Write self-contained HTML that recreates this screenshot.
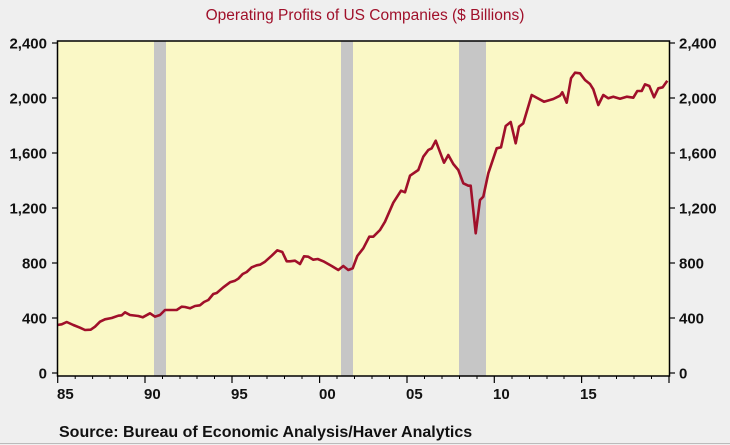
<!DOCTYPE html>
<html><head><meta charset="utf-8"><style>
html,body{margin:0;padding:0;background:#efefef;}
svg{display:block;font-family:"Liberation Sans",Arial,sans-serif;}
</style></head><body>
<svg width="730" height="445" viewBox="0 0 730 445">
<rect width="730" height="445" fill="#efefef"/>
<text x="365" y="20" text-anchor="middle" font-size="15.5" fill="#a0102a">Operating Profits of US Companies ($ Billions)</text>
<rect x="57.5" y="41" width="612" height="335" fill="#faf8c6"/>
<rect x="154" y="41" width="12" height="335" fill="#c6c6c6"/>
<rect x="341" y="41" width="12" height="335" fill="#c6c6c6"/>
<rect x="459" y="41" width="27" height="335" fill="#c6c6c6"/>
<polyline fill="none" stroke="#a0102a" stroke-width="2.6" stroke-linejoin="round" points="57.3,325 61.7,324.3 66.7,322 73.3,325 80,327.7 85,330 90.7,329.7 95,326.7 100,321.7 105,319.3 111.7,318 118.3,315.7 121.7,315.3 125,312.3 130,315 138.3,316 142.7,317.3 150,313.3 155,316.7 160,315 165,310 176.7,310 181.7,306.7 185,307 190,308.3 195,306 200,305.3 204,302 208.3,300 213.3,294 216.7,293 223.3,287.3 230,282.3 235,280.7 238.3,278.7 242.7,274 246.7,272 251.7,267.3 256.7,265.3 260,264.7 265,261.7 271.7,255.7 277.3,250.3 282.3,252 286.7,261.3 290,261.3 295,260.7 300,264 304,256.3 308.3,256.7 313.3,259.7 317.7,259 323.3,261.3 331.7,266 338.3,270 343.3,266 348.3,270 352.7,268.3 357.3,256 363.3,248.3 369.3,236.7 373.3,236.7 380,230 385,221.7 393.3,202.7 401,190.7 405,192.3 410,175.7 418.3,170 423.3,156.7 428.3,150 431.7,148.3 435.7,140.7 444,162.7 448.3,155 453.3,164 458.3,170 463.3,183.3 468.3,185.7 470.7,185.7 475.7,233.3 480,200 483.3,196.7 488.3,173.3 496.7,148.3 501,147.3 505.7,126 510.7,122 515.7,143.3 519,126.7 523.3,123.3 531.7,95 544,101.7 553.3,99 560,95.7 562.3,92.3 566.7,102.7 571,78.3 575,72.7 580,73.3 585,80 590,84 593.3,89.3 598.3,105 603.3,95 608.3,98.3 613.3,96.7 620,98.7 626.7,96.7 633.3,97.7 637.3,91 641.7,91 645,84.3 649.3,86 654,97.3 658.3,88.3 662.7,87.3 667.3,80.7"/>
<rect x="57.5" y="41" width="612" height="335" fill="none" stroke="#000" stroke-width="1.5"/>
<g stroke="#000" stroke-width="1.2">
<line x1="52" y1="43" x2="57.5" y2="43"/><line x1="52" y1="98" x2="57.5" y2="98"/><line x1="52" y1="153" x2="57.5" y2="153"/><line x1="52" y1="208" x2="57.5" y2="208"/><line x1="52" y1="263" x2="57.5" y2="263"/><line x1="52" y1="318" x2="57.5" y2="318"/><line x1="52" y1="373" x2="57.5" y2="373"/>
<line x1="669.5" y1="43" x2="675" y2="43"/><line x1="669.5" y1="98" x2="675" y2="98"/><line x1="669.5" y1="153" x2="675" y2="153"/><line x1="669.5" y1="208" x2="675" y2="208"/><line x1="669.5" y1="263" x2="675" y2="263"/><line x1="669.5" y1="318" x2="675" y2="318"/><line x1="669.5" y1="373" x2="675" y2="373"/>
<line x1="57.7" y1="376" x2="57.7" y2="383"/><line x1="145" y1="376" x2="145" y2="383"/><line x1="232" y1="376" x2="232" y2="383"/><line x1="319.6" y1="376" x2="319.6" y2="383"/><line x1="407" y1="376" x2="407" y2="383"/><line x1="494.3" y1="376" x2="494.3" y2="383"/><line x1="581.6" y1="376" x2="581.6" y2="383"/><line x1="669" y1="376" x2="669" y2="383"/>
</g>
<g stroke="#000" stroke-width="1">
<line x1="75.2" y1="376" x2="75.2" y2="379"/><line x1="92.6" y1="376" x2="92.6" y2="379"/><line x1="110" y1="376" x2="110" y2="379"/><line x1="127.5" y1="376" x2="127.5" y2="379"/>
<line x1="162.5" y1="376" x2="162.5" y2="379"/><line x1="180" y1="376" x2="180" y2="379"/><line x1="197" y1="376" x2="197" y2="379"/><line x1="214.5" y1="376" x2="214.5" y2="379"/>
<line x1="249.5" y1="376" x2="249.5" y2="379"/><line x1="267" y1="376" x2="267" y2="379"/><line x1="284.5" y1="376" x2="284.5" y2="379"/><line x1="302" y1="376" x2="302" y2="379"/>
<line x1="337" y1="376" x2="337" y2="379"/><line x1="354.5" y1="376" x2="354.5" y2="379"/><line x1="372" y1="376" x2="372" y2="379"/><line x1="389.5" y1="376" x2="389.5" y2="379"/>
<line x1="424.5" y1="376" x2="424.5" y2="379"/><line x1="442" y1="376" x2="442" y2="379"/><line x1="459.5" y1="376" x2="459.5" y2="379"/><line x1="477" y1="376" x2="477" y2="379"/>
<line x1="512" y1="376" x2="512" y2="379"/><line x1="529.5" y1="376" x2="529.5" y2="379"/><line x1="547" y1="376" x2="547" y2="379"/><line x1="564" y1="376" x2="564" y2="379"/>
<line x1="599" y1="376" x2="599" y2="379"/><line x1="616.5" y1="376" x2="616.5" y2="379"/><line x1="634" y1="376" x2="634" y2="379"/><line x1="651.5" y1="376" x2="651.5" y2="379"/>
</g>
<g font-size="15" font-weight="bold" fill="#111" text-anchor="end">
<text x="47" y="48.5">2,400</text><text x="47" y="103.5">2,000</text><text x="47" y="158.5">1,600</text><text x="47" y="213.5">1,200</text><text x="47" y="268.5">800</text><text x="47" y="323.5">400</text><text x="47" y="378.5">0</text>
</g>
<g font-size="15" font-weight="bold" fill="#111" text-anchor="start">
<text x="679" y="48.5">2,400</text><text x="679" y="103.5">2,000</text><text x="679" y="158.5">1,600</text><text x="679" y="213.5">1,200</text><text x="679" y="268.5">800</text><text x="679" y="323.5">400</text><text x="679" y="378.5">0</text>
</g>
<g font-size="15" font-weight="bold" fill="#111" text-anchor="start">
<text x="57" y="399">85</text><text x="144" y="399">90</text><text x="231" y="399">95</text><text x="319" y="399">00</text><text x="406" y="399">05</text><text x="493" y="399">10</text><text x="580" y="399">15</text>
</g>
<text x="59" y="437" font-size="16" font-weight="bold" fill="#111">Source:  Bureau of Economic Analysis/Haver Analytics</text>
<line x1="0" y1="443.5" x2="730" y2="443.5" stroke="#bbb" stroke-width="1"/>
</svg>
</body></html>
